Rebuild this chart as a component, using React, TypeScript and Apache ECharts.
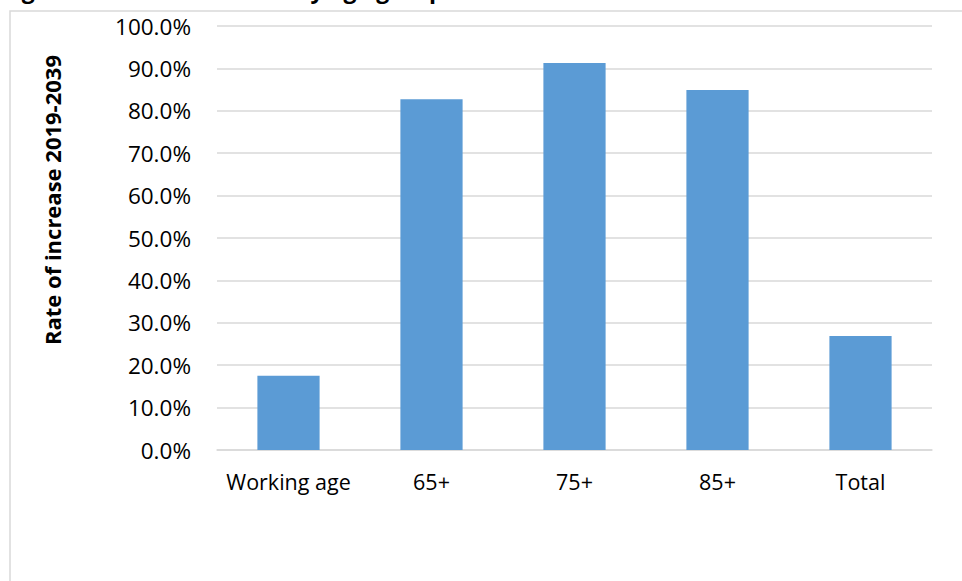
import React, { useEffect, useRef } from "react";
import * as echarts from "echarts";

// Age groups and their projected rate of increase (percent)
const categories = ["Working age", "65+", "75+", "85+", "Total"];
const increasePct = [17.5, 82.7, 91.3, 84.9, 26.9];

const yAxisTitle = "Rate of increase 2019-2039";
const figureTitle = "Figure 1: Rate of increase by age group";

const FONT = "'Open Sans', 'Noto Sans', sans-serif";

export default function App() {
  const ref = useRef<HTMLDivElement>(null);

  useEffect(() => {
    if (!ref.current) return;
    const chart = echarts.init(ref.current, null, { renderer: "svg" });
    chart.setOption({
      animation: false,
      backgroundColor: "#ffffff",
      textStyle: { fontFamily: FONT },
      grid: { left: 217, right: 30, top: 26, bottom: 131, containLabel: false },
      xAxis: {
        type: "category",
        data: categories,
        axisLine: { show: true, lineStyle: { color: "#d9d9d9", width: 1.5 } },
        axisTick: { show: false },
        axisLabel: {
          color: "#000",
          fontSize: 21.5,
          fontFamily: FONT,
          margin: 20,
          interval: 0,
        },
      },
      yAxis: {
        type: "value",
        min: 0,
        max: 100,
        interval: 10,
        axisLine: { show: false },
        axisTick: { show: false },
        splitLine: { lineStyle: { color: "#d9d9d9", width: 1.5 } },
        axisLabel: {
          color: "#000",
          fontSize: 22.5,
          fontFamily: FONT,
          margin: 26,
          formatter: (v: number) => v.toFixed(1) + "%",
        },
      },
      series: [
        {
          type: "bar",
          data: increasePct,
          barWidth: "43.5%",
          itemStyle: { color: "#5b9bd5" },
        },
      ],
      graphic: [
        {
          type: "rect",
          shape: { x: 10, y: 11, width: 1200, height: 1000 },
          style: { fill: "none", stroke: "#d9d9d9", lineWidth: 1.5 },
          silent: true,
          z: -1,
        },
        {
          type: "text",
          x: 2,
          y: -23,
          style: {
            text: figureTitle,
            fontSize: 23,
            fontWeight: "bold",
            fontFamily: FONT,
            fill: "#000",
            textVerticalAlign: "top",
          },
        },
        {
          type: "text",
          x: 52,
          y: 200,
          rotation: Math.PI / 2,
          style: {
            text: yAxisTitle,
            fontSize: 22,
            fontWeight: "bold",
            fontFamily: FONT,
            fill: "#000",
            align: "center",
            verticalAlign: "middle",
          },
        },
      ],
    });
    return () => chart.dispose();
  }, []);

  return (
    <div
      ref={ref}
      style={{ position: "fixed", left: 0, top: 0, width: 962, height: 581 }}
    />
  );
}
